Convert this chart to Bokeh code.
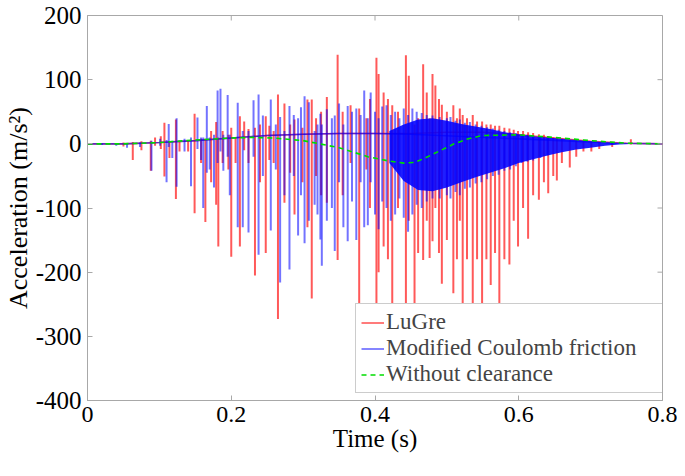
import numpy as np
from bokeh.plotting import figure
from bokeh.models import (Legend, LegendItem, FixedTicker, Range1d)
from bokeh.embed import file_html
from bokeh.resources import INLINE

# ---------------- data ----------------
x_ticks = [0, 0.2, 0.4, 0.6, 0.8]
x_tick_labels = ["0", "0.2", "0.4", "0.6", "0.8"]
y_ticks = [-400, -300, -200, -100, 0, 100, 200]
y_tick_labels = ["-400", "-300", "-200", "-100", "0", "100", "200"]
x_min, x_max = 0, 0.8
y_min, y_max = -400, 200

# Without clearance (smooth response)
green_t = [0, 0.05, 0.10, 0.15, 0.20, 0.23, 0.26, 0.30, 0.35, 0.39, 0.42, 0.44,
           0.455, 0.47, 0.49, 0.51, 0.53, 0.55, 0.60, 0.65, 0.70, 0.75, 0.80]
green_a = [0, 0, 2, 6, 9, 10, 9, 5, -6, -20, -27, -30,
           -29, -22, -11, 0, 8, 13, 14, 10, 5, 1, 0]

# LuGre: trend between impacts, and impact spikes (time, top, bottom)
red_base_t = [0, 0.05, 0.10, 0.15, 0.20, 0.25, 0.30, 0.35, 0.40, 0.45, 0.50,
              0.55, 0.60, 0.65, 0.70, 0.75, 0.80]
red_base_a = [0, 0, 2, 5, 9, 13, 15, 16, 16, 16, 18, 18, 14, 9, 4, 1, 0]
red_t = [0.050, 0.063, 0.075, 0.088, 0.094, 0.102, 0.107, 0.114, 0.123, 0.128,
         0.140, 0.149, 0.158, 0.164, 0.172, 0.179, 0.182, 0.188, 0.196, 0.200,
         0.206, 0.212, 0.218, 0.224, 0.233, 0.240, 0.248, 0.253, 0.259, 0.265,
         0.274, 0.282, 0.288, 0.299, 0.306, 0.312, 0.318, 0.325, 0.333, 0.348,
         0.355, 0.366, 0.378, 0.388, 0.393, 0.402, 0.405, 0.412, 0.418, 0.424,
         0.432, 0.443, 0.447, 0.455, 0.460, 0.467, 0.472, 0.476, 0.480, 0.484,
         0.489, 0.493, 0.500, 0.509, 0.514, 0.518, 0.522, 0.528, 0.536, 0.542,
         0.549, 0.555, 0.561, 0.567, 0.573, 0.580, 0.587, 0.593, 0.599, 0.606,
         0.613, 0.620, 0.628, 0.635, 0.641, 0.648, 0.653, 0.660, 0.671, 0.680,
         0.690, 0.701, 0.712, 0.730, 0.756]
red_hi = [2, 3, 4, 5, 10, 12, 33, 4, 38, 5,
          6, 47, 8, 8, 20, 34, 10, 20, 14, 25,
          10, 43, 35, 23, 25, 30, 43, 28, 20, 77,
          63, 30, 38, 25, 69, 69, 40, 50, 73, 139,
          50, 60, 55, 40, 70, 134, 109, 80, 70, 60,
          50, 138, 106, 30, 40, 124, 80, 40, 109, 91,
          70, 61, 50, 60, 40, 55, 45, 40, 45, 35,
          35, 30, 30, 28, 28, 25, 24, 22, 20, 20,
          18, 17, 15, 14, 12, 10, 10, 8, 6, 5,
          4, 3, 2, 2, 7]
red_lo = [-4, -25, -10, -42, -3, -8, -51, -22, -86, -12,
          -12, -108, -30, -122, -60, -95, -160, -30, -40, -176,
          -30, -160, -10, -30, -205, -60, -170, -25, -30, -273,
          -92, -45, -110, -60, -130, -241, -50, -80, -92, -181,
          -80, -30, -280, -40, -100, -280, -200, -160, -180, -280,
          -100, -280, -120, -280, -170, -181, -120, -178, -152, -100,
          -170, -218, -150, -233, -180, -120, -280, -180, -280, -180,
          -280, -180, -220, -170, -248, -180, -188, -120, -160, -100,
          -148, -80, -87, -60, -77, -50, -57, -30, -37, -20,
          -12, -12, -8, -5, -1]

# Modified Coulomb friction: trend, dense band envelope and impact spikes
blue_base_t = [0, 0.05, 0.10, 0.15, 0.20, 0.25, 0.30, 0.35, 0.40, 0.45,
               0.74, 0.80]
blue_base_a = [0, 0, 2, 5, 9, 13, 15, 16, 16, 15, 1, 0]
band_t = [0.42, 0.44, 0.46, 0.48, 0.50, 0.52, 0.54, 0.56, 0.58, 0.60,
          0.62, 0.64, 0.66, 0.68, 0.70, 0.72, 0.74, 0.76]
band_hi = [20, 30, 38, 40, 36, 31, 27, 23, 18, 15, 12, 10, 8, 6, 4, 2, 1, 0]
band_lo = [-30, -58, -72, -74, -68, -60, -52, -45, -38, -30,
           -24, -18, -13, -9, -6, -3, -1, 0]
blue_t = [0.020, 0.040, 0.055, 0.073, 0.089, 0.101, 0.110, 0.113, 0.118, 0.124,
          0.135, 0.144, 0.153, 0.158, 0.161, 0.166, 0.170, 0.176, 0.181, 0.185,
          0.189, 0.195, 0.198, 0.209, 0.216, 0.224, 0.231, 0.238, 0.244, 0.255,
          0.262, 0.268, 0.274, 0.281, 0.287, 0.293, 0.297, 0.302, 0.308, 0.316,
          0.320, 0.324, 0.326, 0.333, 0.340, 0.344, 0.350, 0.356, 0.362, 0.368,
          0.374, 0.380, 0.385, 0.390, 0.394, 0.400, 0.405, 0.410, 0.416, 0.422,
          0.428, 0.434, 0.440, 0.446, 0.452, 0.458, 0.465, 0.472, 0.480, 0.490,
          0.500, 0.505, 0.512, 0.518, 0.525, 0.532, 0.540, 0.548, 0.556, 0.564,
          0.572, 0.580, 0.588, 0.596, 0.604, 0.612, 0.620, 0.630, 0.640]
blue_hi = [1, 1, 1, 2, 5, 8, 6, 31, 5, 40,
           8, 10, 41, 10, 10, 59, 10, 14, 83, 86,
           14, 76, 14, 64, 20, 20, 68, 77, 44, 69,
           30, 42, 20, 59, 45, 40, 57, 74, 65, 20,
           30, 47, 30, 54, 40, 44, 63, 30, 59, 50,
           55, 45, 83, 40, 80, 50, 40, 58, 60, 45,
           50, 40, 55, 45, 55, 50, 48, 45, 44, 42,
           40, 42, 36, 38, 33, 34, 30, 28, 26, 24,
           22, 20, 18, 17, 15, 14, 13, 11, 10]
blue_lo = [-2, -3, -6, -5, -42, -3, -60, -5, -22, -67,
           -12, -66, -8, -25, -100, -45, -40, -68, -30, -12,
           -42, -20, -80, -130, -130, -138, -20, -173, -50, -135,
           -40, -216, -80, -196, -50, -143, -80, -155, -120, -95,
           -110, -149, -190, -120, -100, -167, -60, -130, -152, -90,
           -150, -60, -130, -127, -60, -110, -133, -90, -100, -120,
           -110, -85, -115, -137, -110, -95, -100, -90, -85, -85,
           -80, -85, -75, -80, -70, -68, -62, -60, -55, -50,
           -48, -42, -40, -35, -30, -28, -26, -22, -18]

# ---------------- figure ----------------
AX = "#a8a8a8"
FONT = "Liberation Serif"

p = figure(width=677, height=462, output_backend="svg", toolbar_location=None,
           x_range=Range1d(x_min, x_max), y_range=Range1d(y_min, y_max),
           min_border_left=81, min_border_right=15, min_border_top=15,
           min_border_bottom=62,
           x_axis_label="Time (s)", y_axis_label="Acceleration (m/s\u00b2)")
p.xgrid.visible = False
p.ygrid.visible = False
p.outline_line_color = AX
p.background_fill_color = "white"
p.border_fill_color = "white"

# LuGre
red_line = p.line(red_base_t, red_base_a, line_color="red", line_alpha=0.65,
                  line_width=1.6)
p.segment(x0=red_t, y0=red_lo, x1=red_t, y1=red_hi, line_color="red",
          line_alpha=0.65, line_width=2)

# Modified Coulomb friction
p.varea(x=band_t, y1=band_lo, y2=band_hi, fill_color="#0000ff", fill_alpha=0.88)
blue_line = p.line(blue_base_t, blue_base_a, line_color="blue", line_alpha=0.6,
                   line_width=1.6)
p.segment(x0=blue_t, y0=blue_lo, x1=blue_t, y1=blue_hi, line_color="blue",
          line_alpha=0.55, line_width=2)

# Without clearance
green_line = p.line(green_t, green_a, line_color="#00dd00", line_width=1.6,
                    line_dash="5 4")

# axes (left / bottom) with inward ticks
p.xaxis.ticker = FixedTicker(ticks=x_ticks)
p.yaxis.ticker = FixedTicker(ticks=y_ticks)
p.xaxis.major_label_overrides = dict(zip(x_ticks, x_tick_labels))
p.yaxis.major_label_overrides = dict(zip(y_ticks, y_tick_labels))
for ax in (p.xaxis[0], p.yaxis[0]):
    ax.axis_line_color = AX
    ax.major_tick_line_color = AX
    ax.major_tick_in = 5
    ax.major_tick_out = 0
    ax.minor_tick_line_color = None
    ax.major_label_text_font = FONT
    ax.major_label_text_color = "black"
    ax.axis_label_text_font = FONT
    ax.axis_label_text_font_style = "normal"
    ax.axis_label_text_color = "black"
p.xaxis.major_label_text_font_size = "24px"
p.xaxis.axis_label_text_font_size = "25px"
p.yaxis.major_label_text_font_size = "25px"
p.yaxis.axis_label_text_font_size = "26px"
p.yaxis.major_label_standoff = 6
p.yaxis.axis_label_standoff = 0
p.xaxis.major_label_standoff = 6
p.xaxis.axis_label_standoff = 0

# box ticks on the top and right edges (MATLAB "box on"), 5 px inward
p.ray(x=x_ticks, y=[y_max] * len(x_ticks), length=5, length_units="screen",
      angle=-np.pi / 2, line_color=AX, line_width=1)
p.ray(x=[x_max] * len(y_ticks), y=y_ticks, length=5, length_units="screen",
      angle=np.pi, line_color=AX, line_width=1)

legend = Legend(items=[LegendItem(label="LuGre", renderers=[red_line]),
                       LegendItem(label="Modified Coulomb friction",
                                  renderers=[blue_line]),
                       LegendItem(label="Without clearance",
                                  renderers=[green_line])],
                location=(268, 7), label_text_font=FONT,
                label_text_font_size="23px", label_height=25, glyph_height=25,
                glyph_width=23, label_standoff=2, padding=5, spacing=0,
                margin=0, label_width=273, border_line_color="#999999",
                background_fill_color="white", background_fill_alpha=1)
p.add_layout(legend, "center")

open("out.html", "w").write(file_html(p, INLINE))
